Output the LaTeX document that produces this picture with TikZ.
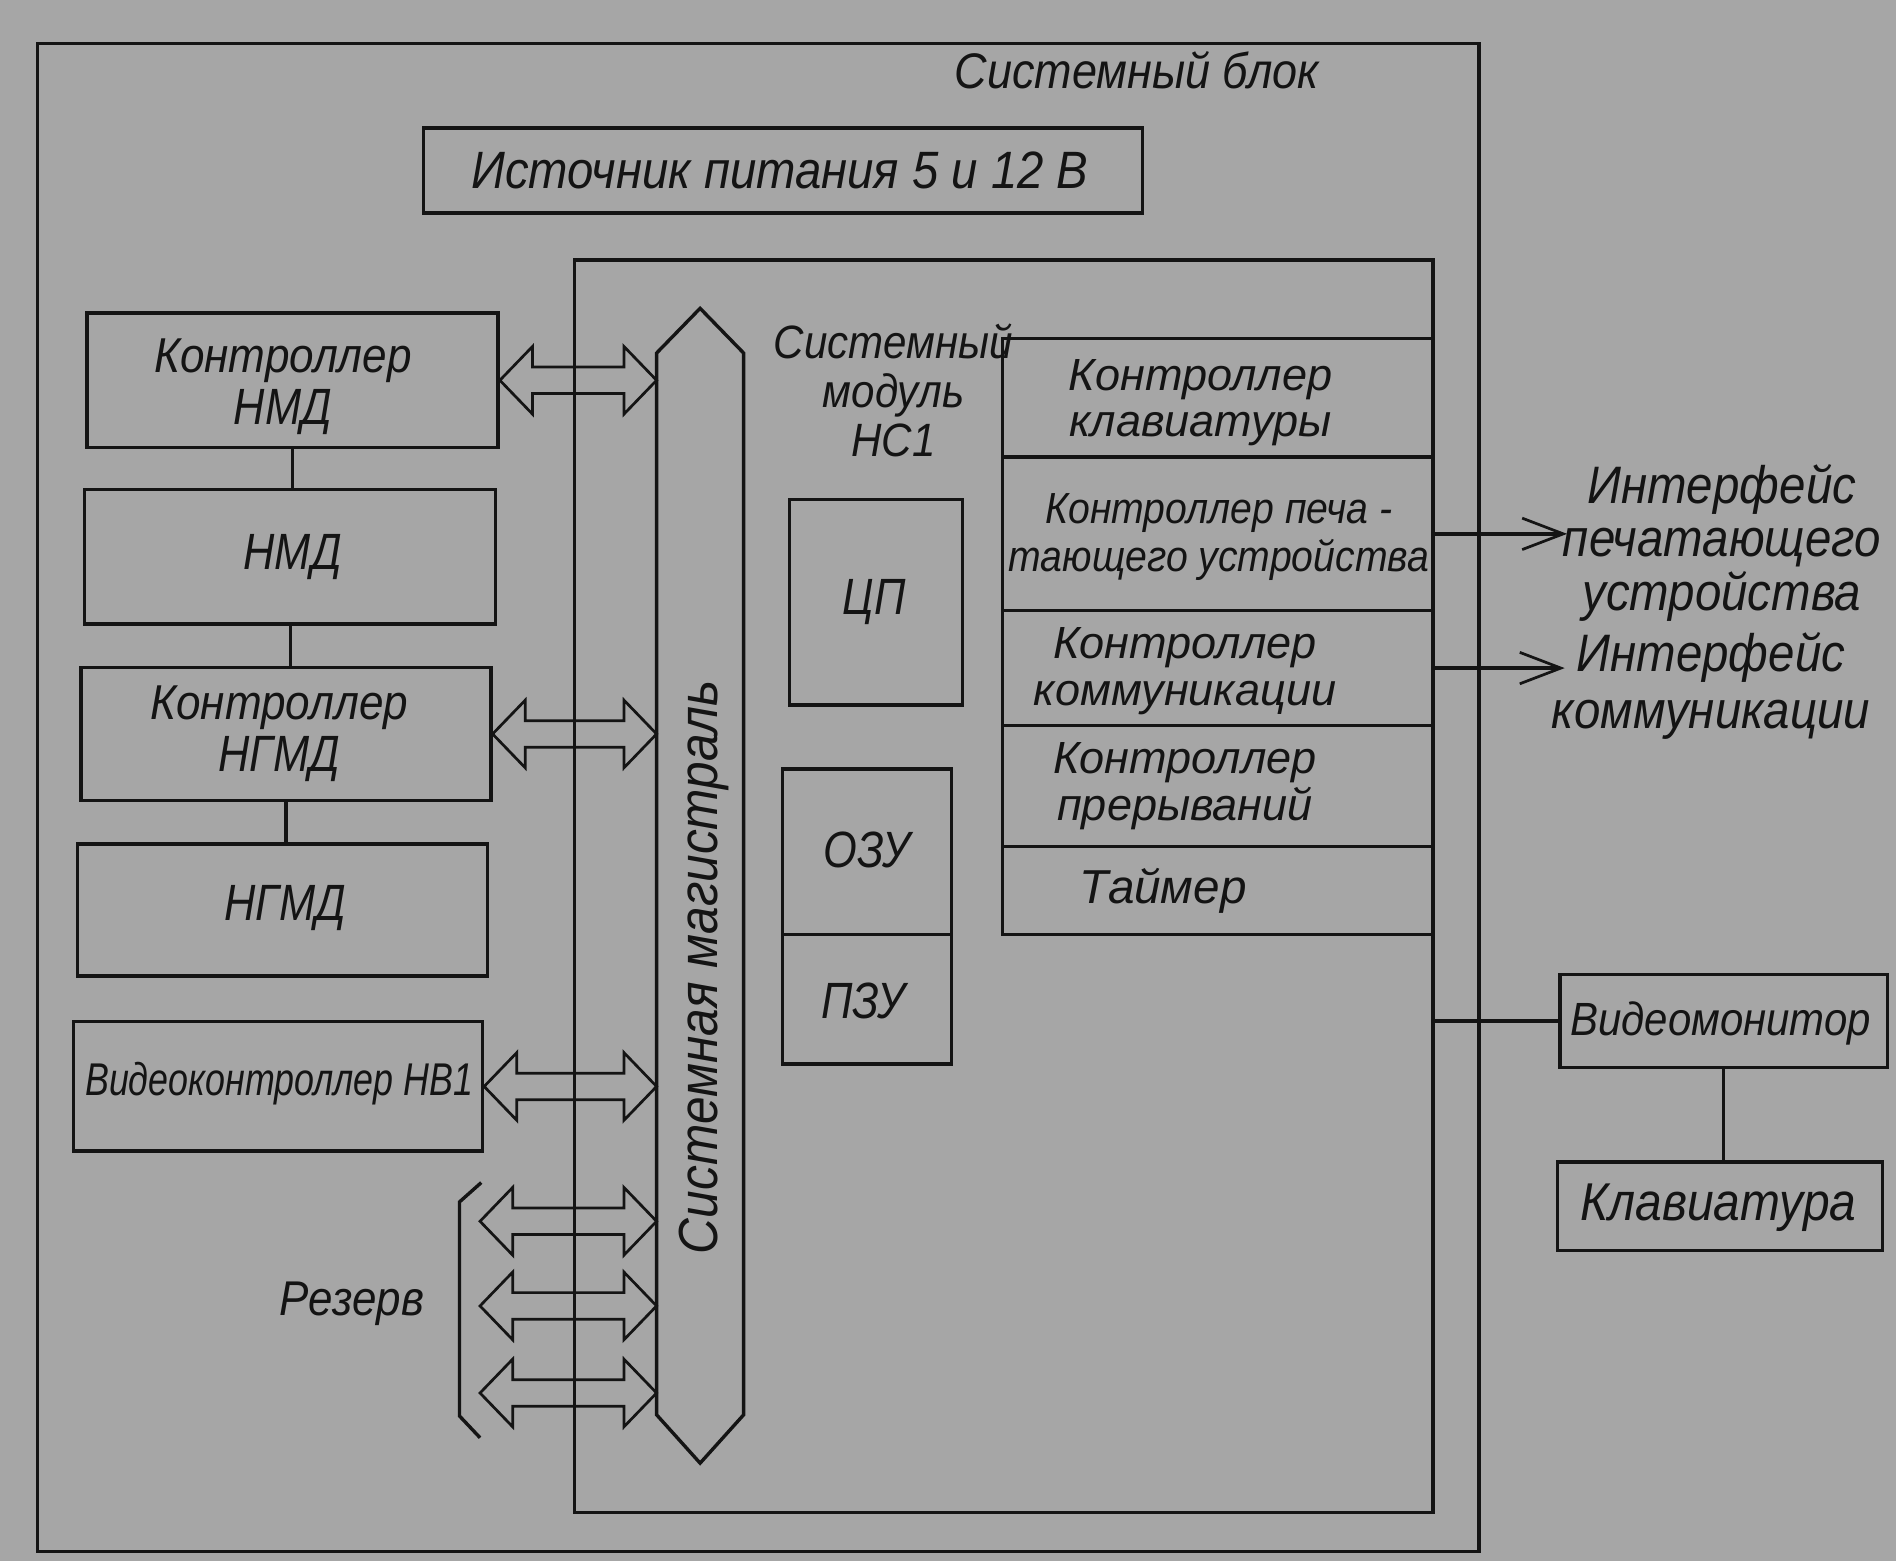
\documentclass[tikz,border=0pt]{standalone}
\usepackage{fontspec}
\newfontfamily\gost{Liberation Sans}[FakeStretch=0.9]
\newfontfamily\gostw{Liberation Sans}
\newfontfamily\gostc{Liberation Sans}[FakeStretch=0.85]
\newfontfamily\gostn{Liberation Sans}[FakeStretch=0.78]
\usetikzlibrary{fit,calc,arrows.meta}
\definecolor{paper}{RGB}{166,166,166}
\definecolor{ink}{RGB}{20,20,20}
\newcommand\gfont[2]{\gost\itshape\fontsize{#1}{#2}\selectfont}
\newcommand\wfont[2]{\gostw\itshape\fontsize{#1}{#2}\selectfont}
\newcommand\cfont[2]{\gostc\itshape\fontsize{#1}{#2}\selectfont}
\newcommand\nfont[2]{\gostn\itshape\fontsize{#1}{#2}\selectfont}
\newcommand\busarrow[2]{%
  \draw[dbl] (#1) -- ++(27,-28) -- ++(0,17) -- ($(#2)+(-27,-11)$) -- ++(0,-17)
    -- (#2) -- ++(-27,28) -- ++(0,-17) -- ($(#1)+(27,11)$) -- ++(0,17) -- cycle;}
\begin{document}
\begin{tikzpicture}[x=0.025cm,y=-0.025cm,
  wire/.style={draw=ink, line width=2pt},
  dbl/.style={draw=ink, line width=1.6pt, line join=miter},
  box/.style={draw=ink, line width=2pt, inner sep=0pt},
  lbl/.style={inner sep=0pt, align=center, text=ink, font=\gfont{30}{31}},
  caps/.style={inner sep=0pt, align=center, text=ink, font=\cfont{30}{31}},
  barb/.style={-{Straight Barb[length=0.85cm,width=0.65cm,line width=1.6pt]}}]
\useasboundingbox (0,0) rectangle (1568,1291);
\fill[paper] (0,0) rectangle (1568,1291);

% system unit
\node[box, fit={(31,36)(1223,1283)}] (blk) {};
\node[lbl, font=\gfont{29.4}{30}] (blklbl) at (940,58) {Системный блок};
\node[box, fit={(350,106)(945,176)}] (psu) {};
\node[lbl, font=\gfont{30.9}{31}] (psut) at (645,141) {Источник питания 5 и 12 В};

% system module
\node[box, fit={(475,215)(1185,1251)}] (mod) {};
\node[lbl, font=\gfont{27.5}{29}] (modlbl) at (739,323) {Системный\\модуль\\НС1};

% bus
\coordinate (busW) at (543,0);
\coordinate (busN) at (579,255);
\coordinate (busS) at (579,1210);
\draw[wire, line join=miter] (busN) -- (615,292) -- (615,1170) -- (busS) -- (543,1170) -- (543,292) -- cycle;
\node[lbl, rotate=90, font=\gfont{32.4}{33}] (buslbl) at (582,800) {Системная магистраль};

% left column
\node[box, fit={(72,259)(412,370)}] (b1) {};
\node[box, fit={(70,405)(410,516)}] (b2) {};
\node[box, fit={(67,552)(406,662)}] (b3) {};
\node[box, fit={(64,698)(403,807)}] (b4) {};
\node[box, fit={(61,845)(399,952)}] (b5) {};
\node[lbl, font=\gfont{28.8}{30.6}] (b1t) at (234,320) {Контроллер\\\cfont{30}{30.6}НМД};
\node[caps] (b2t) at (242,461) {НМД};
\node[lbl, font=\gfont{28.8}{30.6}] (b3t) at (231,607) {Контроллер\\\cfont{30}{30.6}НГМД};
\node[caps] (b4t) at (236,751) {НГМД};
\node[caps, font=\nfont{27}{30}] (b5t) at (231,896) {Видеоконтроллер НВ1};
\draw[wire] (b1.south) -- (b1.south |- b2.north);
\draw[wire] (b2.south) -- (b2.south |- b3.north);
\draw[wire] (b3.south) -- (b3.south |- b4.north);

% double arrows to the bus
\busarrow{b1.east}{b1.east -| busW}
\busarrow{b3.east}{b3.east -| busW}
\busarrow{b5.east}{b5.east -| busW}
\coordinate (rs1) at (397,1010);
\coordinate (rs2) at (397,1080);
\coordinate (rs3) at (397,1152);
\busarrow{rs1}{rs1 -| busW}
\busarrow{rs2}{rs2 -| busW}
\busarrow{rs3}{rs3 -| busW}
\draw[wire] (398,978) -- (380,994) -- (380,1171) -- (397,1189);
\node[lbl, font=\gfont{28.7}{30}] (res) at (291,1078) {Резерв};

% CPU and memory
\node[box, fit={(653,413)(796,583)}] (cpu) {};
\node[box, fit={(647,636)(787,773)}] (ram) {};
\node[box, fit={(647,773)(787,880)}] (rom) {};
\node[caps] (cput) at (723,498) {ЦП};
\node[caps] (ramt) at (717,703) {ОЗУ};
\node[caps] (romt) at (714,828) {ПЗУ};

% controller stack
\node[box, fit={(829,280)(1185,378)}] (r1) {};
\node[box, fit={(829,378)(1185,505)}] (r2) {};
\node[box, fit={(829,505)(1185,600)}] (r3) {};
\node[box, fit={(829,600)(1185,700)}] (r4) {};
\node[box, fit={(829,700)(1185,773)}] (r5) {};
\node[lbl, font=\wfont{26.5}{27.5}] (t1) at (993,333) {Контроллер\\клавиатуры};
\node[lbl, font=\gfont{25.6}{28.5}] (t2) at (1008,444) {Контроллер печа -\\тающего устройства};
\node[lbl, font=\wfont{26.5}{27.5}] (t3) at (980,555) {Контроллер\\коммуникации};
\node[lbl, font=\wfont{26.5}{27.5}] (t4) at (980,650) {Контроллер\\прерываний};
\node[lbl, font=\wfont{28}{29}] (t5) at (962,737) {Таймер};

% interfaces
\coordinate (ifpT) at (1296,440);
\coordinate (ifcT) at (1294,553);
\draw[wire, barb] (r2.east) -- (r2.east -| ifpT);
\draw[wire, barb] (r3.east) -- (r3.east -| ifcT);
\node[lbl, font=\gfont{31}{31.6}] (ifp) at (1424,449) {Интерфейс\\печатающего\\устройства};
\node[lbl, font=\gfont{31}{33.4}] (ifc) at (1415,567) {Интерфейс\\коммуникации};

% monitor and keyboard
\node[box, fit={(1290,806)(1561,883)}] (vm) {};
\node[box, fit={(1288,961)(1557,1034)}] (kb) {};
\node[lbl, font=\gfont{27.4}{30}] (vmt) at (1423,846) {Видеомонитор};
\node[lbl, font=\gfont{31.3}{31}] (kbt) at (1421,999) {Клавиатура};
\draw[wire] (vm.west) -- (vm.west -| mod.east);
\draw[wire] (vm.south) -- (vm.south |- kb.north);
\end{tikzpicture}
\end{document}
